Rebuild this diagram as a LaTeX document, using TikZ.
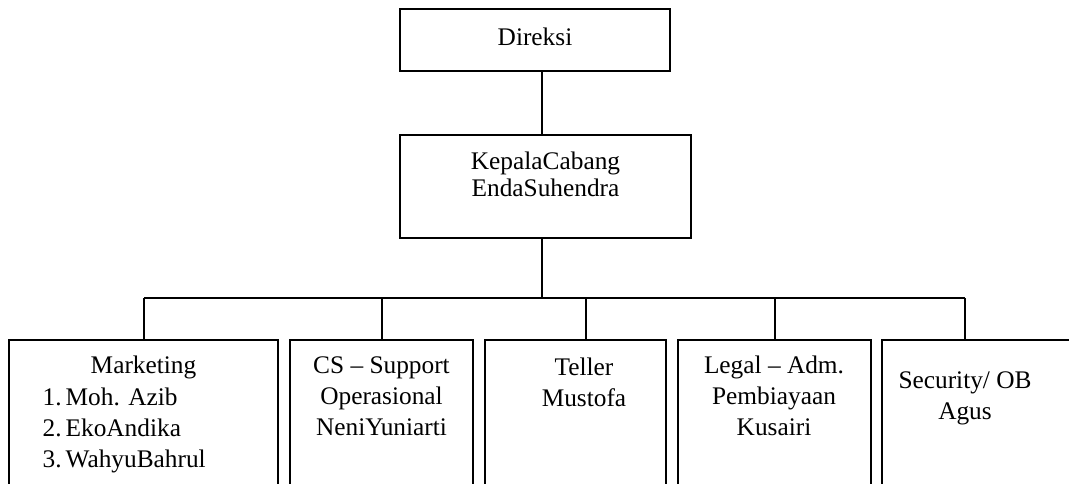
\documentclass[tikz,border=0pt]{standalone}
\usepackage{fontspec}
\setmainfont{Liberation Serif}
\usetikzlibrary{fit}

\newcommand{\nr}[1]{\makebox[17.25pt][l]{#1}}

\begin{document}
\begin{tikzpicture}
    [x=0.75pt, y=-0.75pt, line width=1pt,
     unit/.style={draw, rectangle, inner sep=0pt},
     txt/.style={inner sep=0pt, align=center, anchor=north, font=\fontsize{19}{23.25}\selectfont},
     toptxt/.style={txt, font=\fontsize{19}{20.25}\selectfont}]

    \useasboundingbox (0,0) rectangle (1069,483);
    \clip (0,0) rectangle (1069,483);

    % top of the chart
    \node[unit, fit={(400,9) (670,71)}] (direksi) {};
    \node[unit, fit={(400,135) (691,238)}] (kacab) {};

    \node[toptxt] (direksiT) at (535,26.1) {\strut Direksi};
    \node[toptxt] (kacabT) at (545.5,150.1) {\strut KepalaCabang\\EndaSuhendra};

    % units below
    \node[unit, fit={(9,340) (278,520)}] (mkt) {};
    \node[unit, fit={(290,340) (473,520)}] (cs) {};
    \node[unit, fit={(485,340) (666,520)}] (teller) {};
    \node[unit, fit={(678,340) (871,520)}] (legal) {};
    \node[unit, fit={(882,340) (1100,520)}] (sec) {};

    \node[txt] (mktT) at (143.5,351.3) {\strut Marketing};
    \node[txt, anchor=north west, align=left] (mktL) at (42,383.3)
      {\strut\nr{1.}Moh. Azib\\\nr{2.}EkoAndika\\\nr{3.}WahyuBahrul};
    \node[txt] (csT) at (381.5,351.3) {\strut CS -- Support\\Operasional\\NeniYuniarti};
    \node[txt] (tellerT) at (584,353) {\strut Teller\\Mustofa};
    \node[txt] (legalT) at (774,351.3) {\strut Legal -- Adm.\\Pembiayaan\\Kusairi};
    \node[txt] (secT) at (965,366.3) {\strut Security/ OB\\Agus};

    % lines
    \coordinate (spine) at (542,298);
    \coordinate (dMkt) at (144,298);
    \coordinate (dCs) at (382,298);
    \coordinate (dTeller) at (586,298);
    \coordinate (dLegal) at (775,298);
    \coordinate (dSec) at (965,298);

    \draw[-] (direksi.south -| spine) -- (kacab.north -| spine);
    \draw[-] (kacab.south -| spine) -- (spine);
    \draw[-] (dMkt) -- (dSec);
    \draw[-] (dMkt) -- (dMkt |- mkt.north);
    \draw[-] (dCs) -- (dCs |- cs.north);
    \draw[-] (dTeller) -- (dTeller |- teller.north);
    \draw[-] (dLegal) -- (dLegal |- legal.north);
    \draw[-] (dSec) -- (dSec |- sec.north);
\end{tikzpicture}
\end{document}
